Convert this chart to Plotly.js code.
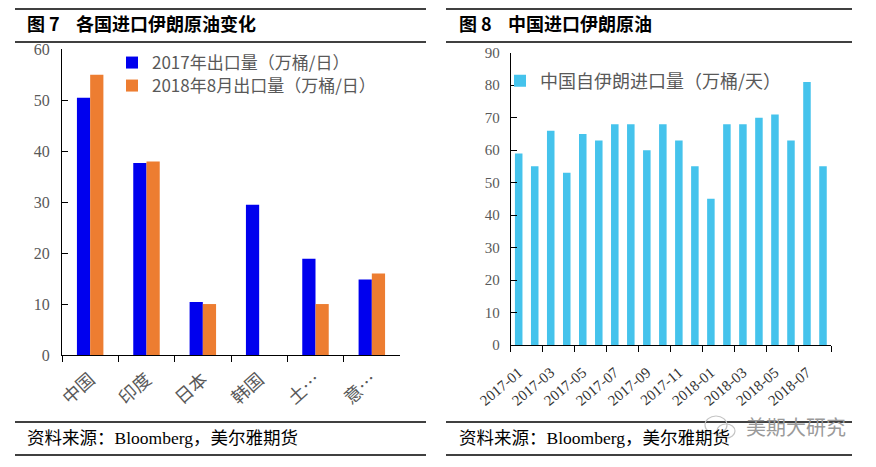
<!DOCTYPE html>
<html>
<head>
<meta charset="utf-8">
<script src="https://cdn.plot.ly/plotly-3.0.1.min.js"></script>
<style>html,body{margin:0;padding:0;background:#fff;}#chart{width:876px;height:467px;}</style>
</head>
<body>
<div id="chart"></div>
<script>
// ---- Data (figure 7) ----
const countries = ["中国", "印度", "日本", "韩国", "土…", "意…"];
const exports2017 = [50.5, 37.7, 10.4, 29.5, 18.9, 14.8];
const exports2018Aug = [55.0, 38.0, 10.0, null, 10.0, 16.0];
const seriesNames = ["2017年出口量（万桶/日）", "2018年8月出口量（万桶/日）"];

// ---- Data (figure 8) ----
const months = ["2017-01","2017-02","2017-03","2017-04","2017-05","2017-06","2017-07","2017-08","2017-09","2017-10",
                "2017-11","2017-12","2018-01","2018-02","2018-03","2018-04","2018-05","2018-06","2018-07","2018-08"];
const chinaImports = [59, 55, 66, 53, 65, 63, 68, 68, 60, 68, 63, 55, 45, 68, 68, 70, 71, 63, 81, 55];
const chinaName = "中国自伊朗进口量（万桶/天）";

const W = 876, H = 467;
const px = x => x / W;
const py = y => 1 - y / H;

const CJK = '"Noto Sans CJK SC", "Noto Sans", sans-serif';
const SERIF = '"Liberation Serif", "Noto Sans CJK SC", serif';
const GRAY = '#595959';

const traces = [
  {type: 'bar', name: seriesNames[0], x: countries, y: exports2017, marker: {color: '#0000EE'},
   xaxis: 'x', yaxis: 'y', legend: 'legend'},
  {type: 'bar', name: seriesNames[1], x: countries, y: exports2018Aug, marker: {color: '#ED7D31'},
   xaxis: 'x', yaxis: 'y', legend: 'legend3'},
  {type: 'bar', name: chinaName, x: months, y: chinaImports, marker: {color: '#45C3EC'},
   xaxis: 'x2', yaxis: 'y2', legend: 'legend2', offsetgroup: 'c'}
];

function hline(x0, x1, y) {
  return {type: 'line', xref: 'paper', yref: 'paper', x0: px(x0), x1: px(x1), y0: py(y), y1: py(y),
          line: {color: '#000', width: 1.5}};
}
function legendAt(x, y, size) {
  return {x: px(x), y: py(y), xanchor: 'left', yanchor: 'middle',
          bgcolor: 'rgba(0,0,0,0)', borderwidth: 0,
          font: {family: CJK, size: size, color: GRAY}};
}

const layout = {
  width: W, height: H,
  margin: {l: 0, r: 0, t: 0, b: 0},
  paper_bgcolor: '#fff', plot_bgcolor: '#fff',
  barmode: 'group', bargap: 0.53, bargroupgap: 0,
  showlegend: true,
  xaxis: {
    domain: [px(62), px(400)], anchor: 'y', type: 'category',
    showline: true, linecolor: '#000', linewidth: 1,
    ticks: 'outside', ticklen: 6, tickcolor: '#000', tickson: 'boundaries',
    tickangle: -42, tickfont: {family: CJK, size: 18, color: GRAY}, ticklabelstandoff: 6,
    showgrid: false, zeroline: false, fixedrange: true
  },
  yaxis: {
    domain: [py(355), py(49.3)], anchor: 'x', range: [0, 60], dtick: 10,
    showline: true, linecolor: '#000', linewidth: 1,
    ticks: 'inside', ticklen: 6, tickcolor: '#000',
    tickfont: {family: SERIF, size: 16, color: GRAY}, ticklabelstandoff: 8,
    showgrid: false, zeroline: false, fixedrange: true
  },
  xaxis2: {
    domain: [px(510.7), px(831)], anchor: 'y2', type: 'category',
    showline: true, linecolor: '#000', linewidth: 1,
    ticks: 'outside', ticklen: 6, tickcolor: '#000', tickson: 'boundaries',
    tickmode: 'linear', tick0: 0, dtick: 2,
    tickangle: -40, tickfont: {family: SERIF, size: 15, color: '#333'}, ticklabelstandoff: 12,
    showgrid: false, zeroline: false, fixedrange: true
  },
  yaxis2: {
    domain: [py(345), py(52.7)], anchor: 'x2', range: [0, 90], dtick: 10,
    showline: true, linecolor: '#000', linewidth: 1,
    ticks: 'inside', ticklen: 6, tickcolor: '#000',
    tickfont: {family: SERIF, size: 15, color: GRAY}, ticklabelstandoff: 7,
    showgrid: false, zeroline: false, fixedrange: true
  },
  legend: legendAt(112, 63, 17),
  legend3: legendAt(112, 86, 17),
  legend2: legendAt(500, 81, 18),
  shapes: [
    hline(15, 426, 9), hline(15, 426, 42), hline(15, 426, 422), hline(15, 426, 455),
    hline(446, 852, 9), hline(446, 852, 42), hline(446, 852, 422), hline(446, 852, 455),
    {type: 'circle', xref: 'paper', yref: 'paper', x0: px(705), x1: px(727), y0: py(434), y1: py(416),
     line: {color: '#c4c4c4', width: 1.2}},
    {type: 'circle', xref: 'paper', yref: 'paper', x0: px(717), x1: px(735), y0: py(438), y1: py(424),
     line: {color: '#c4c4c4', width: 1.2}}
  ],
  annotations: [
    {xref: 'paper', yref: 'paper', x: px(25), y: py(23), xanchor: 'left', yanchor: 'middle', showarrow: false,
     text: '<b>图 7    各国进口伊朗原油变化</b>', font: {family: CJK, size: 18, color: '#000'}},
    {xref: 'paper', yref: 'paper', x: px(457), y: py(23), xanchor: 'left', yanchor: 'middle', showarrow: false,
     text: '<b>图 8    中国进口伊朗原油</b>', font: {family: CJK, size: 18, color: '#000'}},
    {xref: 'paper', yref: 'paper', x: px(25), y: py(438), xanchor: 'left', yanchor: 'middle', showarrow: false,
     text: '资料来源：Bloomberg，美尔雅期货', font: {family: SERIF, size: 17.5, color: '#000'}},
    {xref: 'paper', yref: 'paper', x: px(457), y: py(438), xanchor: 'left', yanchor: 'middle', showarrow: false,
     text: '资料来源：Bloomberg，美尔雅期货', font: {family: SERIF, size: 17.5, color: '#000'}},
    {xref: 'paper', yref: 'paper', x: px(744), y: py(426), xanchor: 'left', yanchor: 'middle', showarrow: false,
     text: '美期大研究', font: {family: CJK, size: 20, color: '#9a9a9a'}}
  ]
};

Plotly.newPlot('chart', traces, layout, {displayModeBar: false, staticPlot: true});
</script>
</body>
</html>
